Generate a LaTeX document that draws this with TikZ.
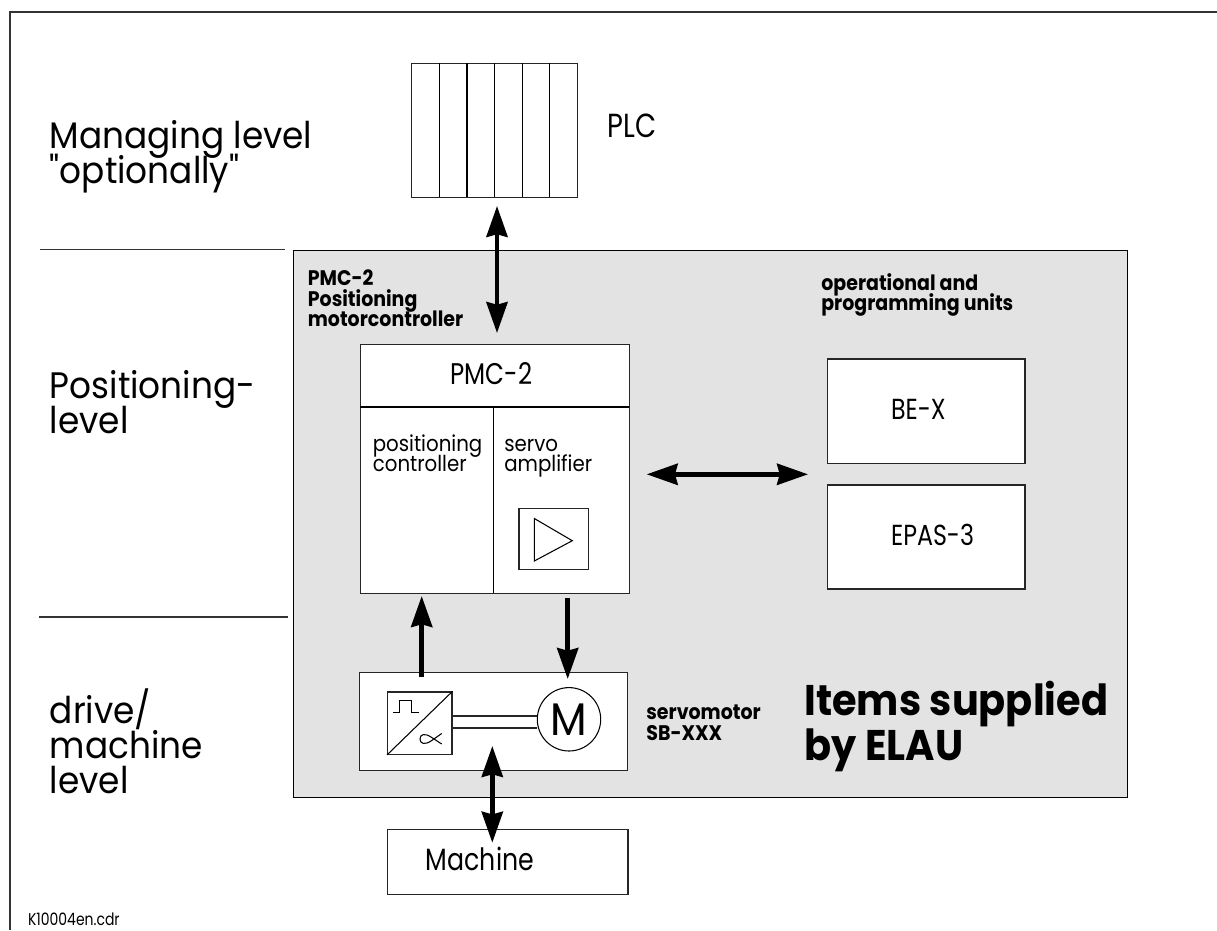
\documentclass[tikz,border=0pt]{standalone}
\usepackage{fontspec}
\setmainfont[FakeStretch=0.82]{Poppins}
\newfontfamily\bfam[FakeStretch=0.9]{Poppins}
\newfontfamily\tfam[FakeStretch=0.93]{Poppins}
\usetikzlibrary{arrows.meta}
\newcommand{\fs}[2]{\fontsize{#1}{#2}\selectfont\lineskiplimit=-100pt\relax}
\tikzset{
  x=0.02cm,y=-0.02cm,
  box/.style={draw=black!85,line width=0.7pt,fill=white,inner sep=0pt},
  thin line/.style={draw=black,line width=0.6pt},
  bigarrow/.style={line width=2.65pt,-{Stealth[length=17.6pt,width=12pt,inset=1.5pt]}},
  bigdouble/.style={line width=2.5pt,{Stealth[length=17.6pt,width=12pt,inset=1.5pt]}-{Stealth[length=17.6pt,width=12pt,inset=1.5pt]}},
  lbl/.style={anchor=base west,inner sep=0pt,align=left,text=black},
  biglbl/.style={lbl,font=\tfam\fs{21}{19.9}},
  midlbl/.style={lbl,font=\bfam\fs{12.5}{11.4}},
  keylbl/.style={lbl,font=\fs{16.5}{14}},
  boldlbl/.style={lbl,font=\bfam\bfseries\fs{12}{11.7}}
}
\begin{document}
\begin{tikzpicture}
\useasboundingbox (0,0) rectangle (1217,930);
\fill[white] (0,0) rectangle (1217,930);
% frame
\coordinate (frameBL) at (10,930);
\coordinate (frameTL) at (10,12);
\coordinate (frameTR) at (1217,12);
\draw[line width=0.7pt,draw=black!80] (frameBL) -- (frameTL) -- (frameTR);
% grey area
\node[draw=black,line width=0.6pt,fill=black!11,inner sep=0pt,minimum width=833.7*0.02cm,minimum height=547.3*0.02cm,anchor=north west] (grey) at (293,250) {};
% level lines
\coordinate (l1a) at (39.5,249.5); \coordinate (l1b) at (285,249.5);
\coordinate (l2a) at (39,617); \coordinate (l2b) at (288,617);
\draw[line width=0.7pt,black!80] (l1a) -- (l1b);
\draw[line width=0.7pt,black!80] (l2a) -- (l2b);
% PLC rack
\node[box,minimum width=165.3*0.02cm,minimum height=134*0.02cm,anchor=north west] (plc) at (411.2,63) {};
\foreach \xx in {439.3,467,494.3,522.3,549.6}{
  \draw[thin line] (\xx,63) -- (\xx,197);
}
\node[lbl,font=\fs{19}{18}] (plclbl) at (607,137) {PLC};
% PMC box
\node[box,minimum width=269*0.02cm,minimum height=249*0.02cm,anchor=north west] (pmc) at (360,344) {};
\coordinate (pmcL) at (360,407); \coordinate (pmcR) at (629,407);
\draw[thin line] (pmcL) -- (pmcR);
\coordinate (pmcT) at (493.7,407); \coordinate (pmcB) at (493.7,593);
\draw[thin line] (pmcT) -- (pmcB);
\node[lbl,anchor=base,font=\fs{17}{14}] (pmct) at (491.5,384) {PMC-2};
\node[midlbl] (poscon) at (372.5,471.7) {positioning\\controller};
\node[midlbl] (servo) at (504,471.7) {servo\\amplifier};
% amplifier
\node[box,minimum width=69.7*0.02cm,minimum height=61.3*0.02cm,anchor=north west] (amp) at (518.3,507.7) {};
\coordinate (tA) at (534.3,518.5); \coordinate (tB) at (572.3,540.7); \coordinate (tC) at (534.3,561);
\draw[thin line,line join=miter] (tA) -- (tB) -- (tC) -- cycle;
% motor box
\node[box,minimum width=268*0.02cm,minimum height=98*0.02cm,anchor=north west] (motorbox) at (359,672) {};
\node[box,minimum width=64.3*0.02cm,minimum height=62.4*0.02cm,anchor=north west] (conv) at (387,691.3) {};
\draw[thin line] (conv.south west) -- (conv.north east);
\coordinate (p0) at (393.3,712.7);
\draw[line width=0.6pt] (p0) -- (399.3,712.7) -- (399.3,700.7) -- (411.7,700.7) -- (411.7,712.7) -- (419,712.7);
\coordinate (q0) at (441.7,744);
\draw[line width=0.6pt] (q0) -- (431,737) .. controls (425,733) and (420,734) .. (420,739) .. controls (420,744) and (425,745) .. (431,741) -- (441.7,733.5);
\node[circle,draw=black,line width=0.6pt,fill=white,minimum size=63.4*0.02cm,inner sep=0pt,font=\tfam\fs{26}{26}] (motor) at (569,719.3) {M};
\coordinate (s1a) at (453.3,715.7); \coordinate (s1b) at (537,715.7);
\coordinate (s2a) at (453.3,728); \coordinate (s2b) at (537,728);
\draw[line width=1.3pt,black!85] (s1a) -- (s1b);
\draw[line width=1.3pt,black!85] (s2a) -- (s2b);
% right boxes
\node[box,minimum width=197.6*0.02cm,minimum height=104.7*0.02cm,anchor=north west] (bex) at (826.7,358.3) {};
\node[box,minimum width=197.6*0.02cm,minimum height=104*0.02cm,anchor=north west] (epas) at (826.7,484.3) {};
\node[keylbl] (bexl) at (890.7,419) {BE-X};
\node[keylbl] (epasl) at (890.7,545) {EPAS-3};
% machine
\node[box,minimum width=240.3*0.02cm,minimum height=65*0.02cm,anchor=north west] (machine) at (387,829) {};
\node[lbl,anchor=base,font=\fs{17.5}{14}] (machl) at (480,870) {Machine};
% labels
\node[biglbl] (l1) at (49.5,183) {Managing level\\"optionally"};
\node[biglbl] (l2) at (49.5,433) {Positioning-\\level};
\node[biglbl] (l3) at (49.5,793) {drive/\\machine\\level};
\node[boldlbl] (b1) at (307.5,326.7) {PMC-2\\Positioning\\motorcontroller};
\node[boldlbl] (b2) at (821,310.7) {operational and\\programming units};
\node[boldlbl] (b3) at (646,740) {servomotor\\SB-XXX};
\node[lbl,font=\tfam\bfseries\fs{24.4}{25.6}] (b4) at (804,760) {Items supplied\\by ELAU};
\node[lbl,font=\fs{9.7}{9.7}] (file) at (27.7,925) {K10004en.cdr};
% arrows
\coordinate (a1a) at (497,206); \coordinate (a1b) at (497,333);
\draw[bigdouble] (a1a) -- (a1b);
\coordinate (a2a) at (421.7,677); \coordinate (a2b) at (421.7,596);
\draw[bigarrow] (a2a) -- (a2b);
\coordinate (a3a) at (567.7,598); \coordinate (a3b) at (567.7,679);
\draw[bigarrow] (a3a) -- (a3b);
\coordinate (a4a) at (492.3,746); \coordinate (a4b) at (492.3,842.7);
\draw[bigdouble] (a4a) -- (a4b);
\coordinate (a5a) at (646.7,474.3) ; \coordinate (a5b) at (808,474.3);
\draw[bigdouble] (a5a) -- (a5b);
\end{tikzpicture}
\end{document}
